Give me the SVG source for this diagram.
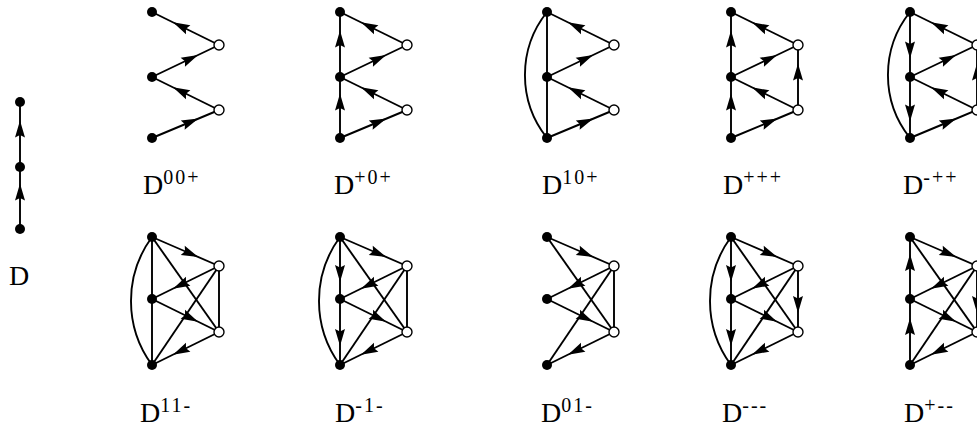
<svg xmlns="http://www.w3.org/2000/svg" width="977" height="429" viewBox="0 0 977 429">
<defs>
<marker id="ah" markerUnits="userSpaceOnUse" orient="auto" refX="0" refY="0" markerWidth="20" markerHeight="10" overflow="visible">
<path d="M14,0 L-3,-5 L-0.5,0 L-3,5 Z" fill="#000"/>
</marker>
</defs>
<style>
.e{fill:none;stroke:#000;stroke-width:1.9}
.a{fill:none;stroke:#000;stroke-width:1.9;marker-mid:url(#ah)}
.f{fill:#000}
.o{fill:#fff;stroke:#000;stroke-width:1.4}
.lb{font-family:"Liberation Serif","Times New Roman",serif;font-size:28px;fill:#000}
.sp{font-size:20px;letter-spacing:2px}
</style>
<rect width="977" height="429" fill="#fff"/>

<g id="connectors">
<!-- graph D -->
<polyline class="a" points="20,229 20,197.5 20,167"/>
<polyline class="a" points="20,167 20,134.5 20,102"/>
<!-- D00p -->
<polyline class="a" points="219,45 185.5,28.5 152,12"/>
<polyline class="a" points="152,77 185.5,61 219,45"/>
<polyline class="a" points="219,110 185.5,93.5 152,77"/>
<polyline class="a" points="152,138 185.5,124 219,110"/>
<!-- Dp0p -->
<polyline class="a" points="407,45 373.5,28.5 340,12"/>
<polyline class="a" points="340,77 373.5,61 407,45"/>
<polyline class="a" points="407,110 373.5,93.5 340,77"/>
<polyline class="a" points="340,138 373.5,124 407,110"/>
<polyline class="a" points="340,138 340,107.5 340,77"/>
<polyline class="a" points="340,77 340,44.5 340,12"/>
<!-- D10p -->
<polyline class="a" points="614,45 580.5,28.5 547,12"/>
<polyline class="a" points="547,77 580.5,61 614,45"/>
<polyline class="a" points="614,110 580.5,93.5 547,77"/>
<polyline class="a" points="547,138 580.5,124 614,110"/>
<line class="e" x1="547" y1="12" x2="547" y2="138"/>
<path class="e" d="M547,12 A101,101 0 0 0 547,138"/>
<!-- Dppp -->
<polyline class="a" points="798,45 764.5,28.5 731,12"/>
<polyline class="a" points="731,77 764.5,61 798,45"/>
<polyline class="a" points="798,110 764.5,93.5 731,77"/>
<polyline class="a" points="731,138 764.5,124 798,110"/>
<polyline class="a" points="731,138 731,107.5 731,77"/>
<polyline class="a" points="731,77 731,44.5 731,12"/>
<polyline class="a" points="798,110 798,77.5 798,45"/>
<!-- Dmpp -->
<polyline class="a" points="977,45 943.5,28.5 910,12"/>
<polyline class="a" points="910,77 943.5,61 977,45"/>
<polyline class="a" points="977,110 943.5,93.5 910,77"/>
<polyline class="a" points="910,138 943.5,124 977,110"/>
<polyline class="a" points="910,12 910,44.5 910,77"/>
<polyline class="a" points="910,77 910,107.5 910,138"/>
<polyline class="a" points="977,110 977,77.5 977,45"/>
<path class="e" d="M910,12 A101,101 0 0 0 910,138"/>

<!-- D11m -->
<line class="e" x1="152" y1="237" x2="219" y2="332"/>
<line class="e" x1="152" y1="365" x2="219" y2="266"/>
<line class="e" x1="219" y1="266" x2="219" y2="332"/>
<line class="e" x1="152" y1="237" x2="152" y2="365"/>
<path class="e" d="M152,237 A108,108 0 0 0 152,365"/>
<polyline class="a" points="152,237 185.5,251.5 219,266"/>
<polyline class="a" points="219,266 185.5,282.5 152,299"/>
<polyline class="a" points="152,299 185.5,315.5 219,332"/>
<polyline class="a" points="219,332 185.5,348.5 152,365"/>
<!-- Dm1m -->
<line class="e" x1="340" y1="237" x2="407" y2="332"/>
<line class="e" x1="340" y1="365" x2="407" y2="266"/>
<line class="e" x1="407" y1="266" x2="407" y2="332"/>
<path class="e" d="M340,237 A108,108 0 0 0 340,365"/>
<polyline class="a" points="340,237 340,268 340,299"/>
<polyline class="a" points="340,299 340,332 340,365"/>
<polyline class="a" points="340,237 373.5,251.5 407,266"/>
<polyline class="a" points="407,266 373.5,282.5 340,299"/>
<polyline class="a" points="340,299 373.5,315.5 407,332"/>
<polyline class="a" points="407,332 373.5,348.5 340,365"/>
<!-- D01m -->
<line class="e" x1="547" y1="237" x2="614" y2="332"/>
<line class="e" x1="547" y1="365" x2="614" y2="266"/>
<line class="e" x1="614" y1="266" x2="614" y2="332"/>
<polyline class="a" points="547,237 580.5,251.5 614,266"/>
<polyline class="a" points="614,266 580.5,282.5 547,299"/>
<polyline class="a" points="547,299 580.5,315.5 614,332"/>
<polyline class="a" points="614,332 580.5,348.5 547,365"/>
<!-- Dmmm -->
<line class="e" x1="731" y1="237" x2="798" y2="332"/>
<line class="e" x1="731" y1="365" x2="798" y2="266"/>
<path class="e" d="M731,237 A108,108 0 0 0 731,365"/>
<polyline class="a" points="731,237 731,268 731,299"/>
<polyline class="a" points="731,299 731,332 731,365"/>
<polyline class="a" points="798,266 798,299 798,332"/>
<polyline class="a" points="731,237 764.5,251.5 798,266"/>
<polyline class="a" points="798,266 764.5,282.5 731,299"/>
<polyline class="a" points="731,299 764.5,315.5 798,332"/>
<polyline class="a" points="798,332 764.5,348.5 731,365"/>
<!-- Dpmm -->
<line class="e" x1="910" y1="237" x2="977" y2="332"/>
<line class="e" x1="910" y1="365" x2="977" y2="266"/>
<polyline class="a" points="910,365 910,332 910,299"/>
<polyline class="a" points="910,299 910,268 910,237"/>
<polyline class="a" points="977,266 977,299 977,332"/>
<polyline class="a" points="910,237 943.5,251.5 977,266"/>
<polyline class="a" points="977,266 943.5,282.5 910,299"/>
<polyline class="a" points="910,299 943.5,315.5 977,332"/>
<polyline class="a" points="977,332 943.5,348.5 910,365"/>
</g>

<g id="graph-D">
<circle class="f" cx="20" cy="102" r="5"/><circle class="f" cx="20" cy="167" r="5"/><circle class="f" cx="20" cy="229" r="5"/>
<text class="lb" x="9" y="285">D</text>
</g>
<g id="graph-D00p">
<circle class="f" cx="152" cy="12" r="5"/><circle class="f" cx="152" cy="77" r="5"/><circle class="f" cx="152" cy="138" r="5"/>
<circle class="o" cx="219" cy="45" r="5"/><circle class="o" cx="219" cy="110" r="5"/>
<text class="lb" x="143" y="194">D<tspan class="sp" dy="-10">00+</tspan></text>
</g>
<g id="graph-Dp0p">
<circle class="f" cx="340" cy="12" r="5"/><circle class="f" cx="340" cy="77" r="5"/><circle class="f" cx="340" cy="138" r="5"/>
<circle class="o" cx="407" cy="45" r="5"/><circle class="o" cx="407" cy="110" r="5"/>
<text class="lb" x="334" y="194">D<tspan class="sp" dy="-10">+0+</tspan></text>
</g>
<g id="graph-D10p">
<circle class="f" cx="547" cy="12" r="5"/><circle class="f" cx="547" cy="77" r="5"/><circle class="f" cx="547" cy="138" r="5"/>
<circle class="o" cx="614" cy="45" r="5"/><circle class="o" cx="614" cy="110" r="5"/>
<text class="lb" x="542" y="194">D<tspan class="sp" dy="-10">10+</tspan></text>
</g>
<g id="graph-Dppp">
<circle class="f" cx="731" cy="12" r="5"/><circle class="f" cx="731" cy="77" r="5"/><circle class="f" cx="731" cy="138" r="5"/>
<circle class="o" cx="798" cy="45" r="5"/><circle class="o" cx="798" cy="110" r="5"/>
<text class="lb" x="723" y="194">D<tspan class="sp" dy="-10">+++</tspan></text>
</g>
<g id="graph-Dmpp">
<circle class="f" cx="910" cy="12" r="5"/><circle class="f" cx="910" cy="77" r="5"/><circle class="f" cx="910" cy="138" r="5"/>
<circle class="o" cx="977" cy="45" r="5"/><circle class="o" cx="977" cy="110" r="5"/>
<text class="lb" x="903" y="194">D<tspan class="sp" dy="-10">-++</tspan></text>
</g>
<g id="graph-D11m">
<circle class="f" cx="152" cy="237" r="5"/><circle class="f" cx="152" cy="299" r="5"/><circle class="f" cx="152" cy="365" r="5"/>
<circle class="o" cx="219" cy="266" r="5"/><circle class="o" cx="219" cy="332" r="5"/>
<text class="lb" x="140" y="422">D<tspan class="sp" dy="-10">11-</tspan></text>
</g>
<g id="graph-Dm1m">
<circle class="f" cx="340" cy="237" r="5"/><circle class="f" cx="340" cy="299" r="5"/><circle class="f" cx="340" cy="365" r="5"/>
<circle class="o" cx="407" cy="266" r="5"/><circle class="o" cx="407" cy="332" r="5"/>
<text class="lb" x="335" y="422">D<tspan class="sp" dy="-10">-1-</tspan></text>
</g>
<g id="graph-D01m">
<circle class="f" cx="547" cy="237" r="5"/><circle class="f" cx="547" cy="299" r="5"/><circle class="f" cx="547" cy="365" r="5"/>
<circle class="o" cx="614" cy="266" r="5"/><circle class="o" cx="614" cy="332" r="5"/>
<text class="lb" x="541" y="422">D<tspan class="sp" dy="-10">01-</tspan></text>
</g>
<g id="graph-Dmmm">
<circle class="f" cx="731" cy="237" r="5"/><circle class="f" cx="731" cy="299" r="5"/><circle class="f" cx="731" cy="365" r="5"/>
<circle class="o" cx="798" cy="266" r="5"/><circle class="o" cx="798" cy="332" r="5"/>
<text class="lb" x="722" y="422">D<tspan class="sp" dy="-10">---</tspan></text>
</g>
<g id="graph-Dpmm">
<circle class="f" cx="910" cy="237" r="5"/><circle class="f" cx="910" cy="299" r="5"/><circle class="f" cx="910" cy="365" r="5"/>
<circle class="o" cx="977" cy="266" r="5"/><circle class="o" cx="977" cy="332" r="5"/>
<text class="lb" x="904" y="422">D<tspan class="sp" dy="-10">+--</tspan></text>
</g>
</svg>
